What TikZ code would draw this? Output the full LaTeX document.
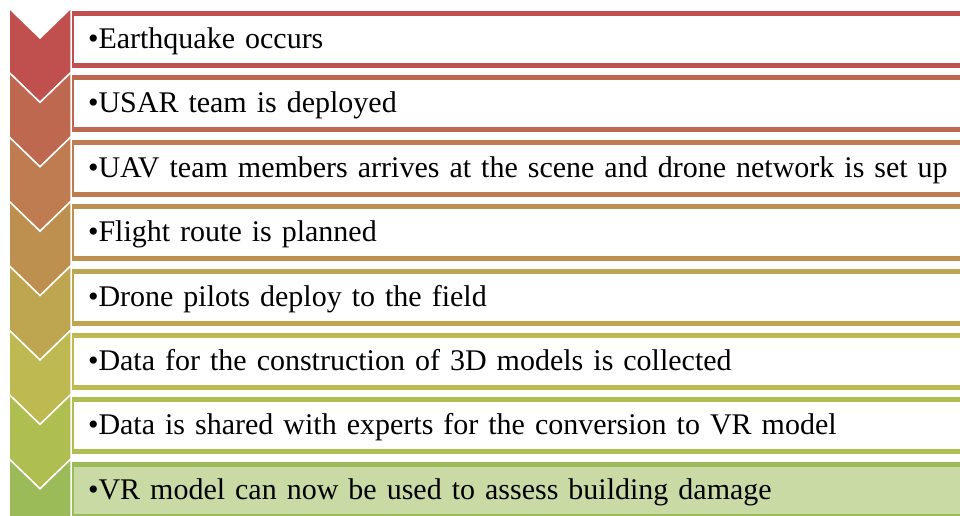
\documentclass[tikz,border=0pt]{standalone}
\usepackage{fontspec}
\setmainfont{Liberation Serif}
\usepackage{tikz}

\definecolor{row1}{RGB}{192,80,77}
\definecolor{row2}{RGB}{190,104,80}
\definecolor{row3}{RGB}{190,124,80}
\definecolor{row4}{RGB}{190,144,80}
\definecolor{row5}{RGB}{190,165,80}
\definecolor{row6}{RGB}{190,185,80}
\definecolor{row7}{RGB}{174,190,80}
\definecolor{row8}{RGB}{155,187,89}
\definecolor{lastfill}{RGB}{201,218,165}

\begin{document}
\begin{tikzpicture}[x=1pt, y=-1pt,
	box/.style={rectangle, anchor=north west, outer sep=0pt, line width=5pt, fill=white,
		minimum height=52pt, text width=940pt, align=left,
		inner xsep=17pt, inner ysep=0pt, text height=24.5pt, text depth=6.5pt,
		font=\fontsize{30}{36}\selectfont},
	chevron/.style={draw=white, line width=1.5pt}]
				\useasboundingbox (0,0) rectangle (960,515);
				\clip (0,0) rectangle (960,515);
				% boxes with the steps
				\node[box, draw=row1] (1) at (71,13.5){•Earthquake occurs};
				\node[box, draw=row2] (2) at (71,77.9){•USAR team is deployed};
				\node[box, draw=row3] (3) at (71,142.3){•UAV team members arrives at the scene and drone network is set up};
				\node[box, draw=row4] (4) at (71,206.7){•Flight route is planned};
				\node[box, draw=row5] (5) at (71,271.1){•Drone pilots deploy to the field};
				\node[box, draw=row6] (6) at (71,335.5){•Data for the construction of 3D models is collected};
				\node[box, draw=row7] (7) at (71,399.9){•Data is shared with experts for the conversion to VR model};
				\node[box, draw=row8, fill=lastfill] (8) at (71,464.3){•VR model can now be used to assess building damage};
				% chevrons
				\filldraw[chevron, fill=row1] (9,8) -- (40,38) -- (71,8) -- (71,72.4) -- (40,102.4) -- (9,72.4) -- cycle;
				\filldraw[chevron, fill=row2] (9,72.4) -- (40,102.4) -- (71,72.4) -- (71,136.8) -- (40,166.8) -- (9,136.8) -- cycle;
				\filldraw[chevron, fill=row3] (9,136.8) -- (40,166.8) -- (71,136.8) -- (71,201.2) -- (40,231.2) -- (9,201.2) -- cycle;
				\filldraw[chevron, fill=row4] (9,201.2) -- (40,231.2) -- (71,201.2) -- (71,265.6) -- (40,295.6) -- (9,265.6) -- cycle;
				\filldraw[chevron, fill=row5] (9,265.6) -- (40,295.6) -- (71,265.6) -- (71,330) -- (40,360) -- (9,330) -- cycle;
				\filldraw[chevron, fill=row6] (9,330) -- (40,360) -- (71,330) -- (71,394.4) -- (40,424.4) -- (9,394.4) -- cycle;
				\filldraw[chevron, fill=row7] (9,394.4) -- (40,424.4) -- (71,394.4) -- (71,458.8) -- (40,488.8) -- (9,458.8) -- cycle;
				\filldraw[chevron, fill=row8] (9,458.8) -- (40,488.8) -- (71,458.8) -- (71,523.2) -- (40,553.2) -- (9,523.2) -- cycle;
			\end{tikzpicture}
\end{document}
